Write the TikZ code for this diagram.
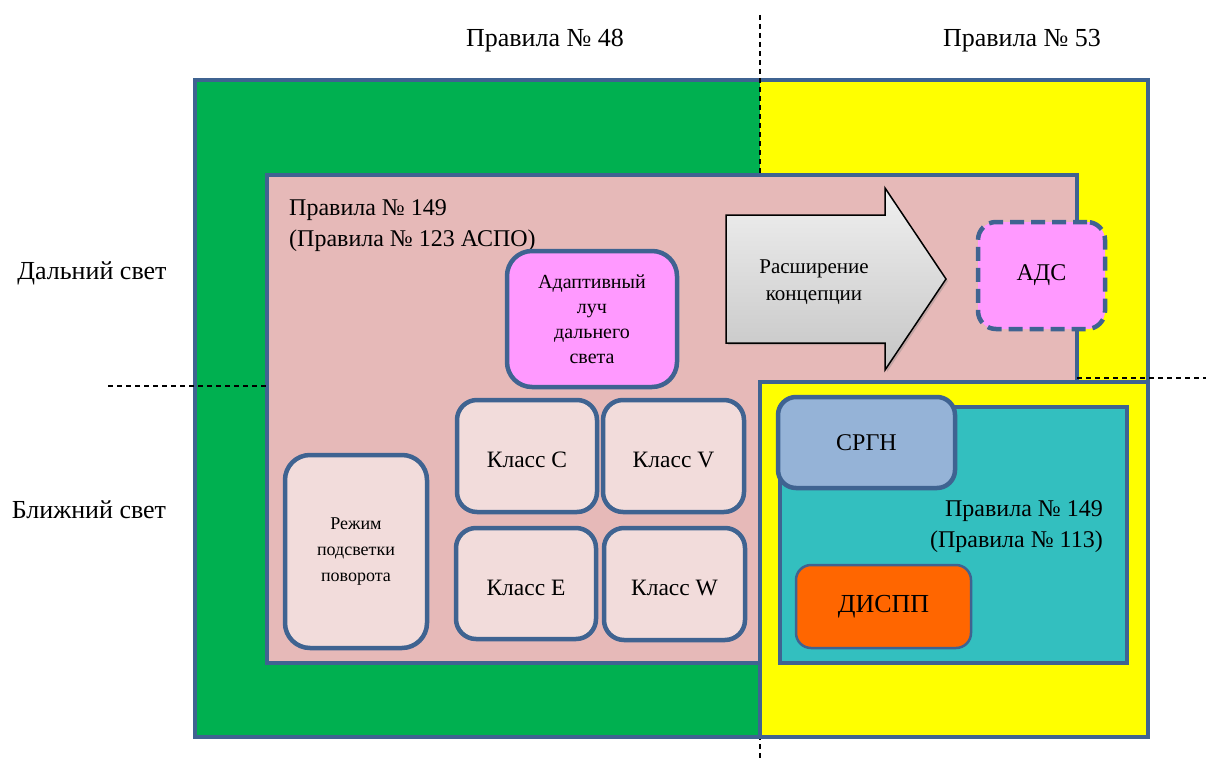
\documentclass[tikz,border=0pt]{standalone}
\usepackage{fontspec}
\setmainfont{Liberation Serif}
\usetikzlibrary{shadows}

\definecolor{frame}{HTML}{3F6391}
\definecolor{zoneA}{HTML}{00B050}
\definecolor{zoneB}{HTML}{FFFF00}
\definecolor{rulefill}{HTML}{E6B9B8}
\definecolor{clsfill}{HTML}{F2DCDB}
\definecolor{adbfill}{HTML}{FF99FF}
\definecolor{tealfill}{HTML}{33BFBF}
\definecolor{srgnfill}{HTML}{95B3D7}
\definecolor{dispfill}{HTML}{FF6600}

\begin{document}
\begin{tikzpicture}[x=1pt, y=-1pt, font=\fontsize{24}{31}\selectfont,
    zone/.style = {draw=frame, line width=4pt},
    box/.style = {draw=frame, line width=4.5pt, rounded corners=20pt, fill=clsfill, align=center, inner sep=0pt},
    cls/.style = {box, minimum width=141pt, minimum height=112pt, font=\fontsize{23.5}{28}\selectfont,
                  text height=23pt, text depth=0pt},
    sep/.style = {dash pattern=on 5pt off 4pt, line width=1.2pt},
    label/.style = {inner sep=0pt},
    side/.style = {inner sep=0pt, font=\fontsize{26}{31}\selectfont}]
    \useasboundingbox (0,0) rectangle (1206,760);

    % zones of the two rules
    \fill[zoneA] (195,80) rectangle (760,737);
    \fill[zoneB] (760,80) rectangle (1148,737);
    \draw[zone] (195,80) rectangle (1148,737);
    \coordinate (vtop) at (760,15);
    \coordinate (vbot) at (760,760);
    \draw[sep] (vtop) -- (vbot);

    \draw[zone, fill=rulefill] (267,175) rectangle (1077,663);
    \draw[zone, fill=zoneB] (760,382) rectangle (1148,737);
    \draw[zone, fill=tealfill] (780,407) rectangle (1127,663);

    % horizontal split
    \coordinate (hl1) at (108,386);
    \coordinate (hl2) at (267,386);
    \coordinate (hr1) at (1077,378);
    \coordinate (hr2) at (1206,378);
    \draw[sep] (hl1) -- (hl2);
    \draw[sep] (hr1) -- (hr2);

    % labels
    \node[side] (r48) at (545,41) {Правила № 48};
    \node[side] (r53) at (1022,41) {Правила № 53};
    \node[side] (far) at (92,273) {Дальний свет};
    \node[side] (near) at (89,510) {Ближний свет};
    \node[label, anchor=west, align=left] (r149) at (289,226) {Правила № 149\\(Правила № 123 АСПО)};
    \node[label, anchor=east, align=right] (r113) at (1103,527) {Правила № 149\\(Правила № 113)};

    % boxes
    \node[box, fill=adbfill, minimum width=170pt, minimum height=136pt, rounded corners=25pt,
          font=\fontsize{20}{25}\selectfont] (adb) at (592,319) {Адаптивный\\луч\\дальнего\\света};
    \node[cls, minimum width=140pt] (clC) at (527,456) {Класс C};
    \node[cls] (clV) at (673.5,456) {Класс V};
    \node[cls, minimum width=140pt, minimum height=111pt] (clE) at (526,583.5) {Класс E};
    \node[cls] (clW) at (674.5,584) {Класс W};
    \node[box, minimum width=142pt, minimum height=193pt, rounded corners=25pt,
          font=\fontsize{18}{26}\selectfont] (turn) at (356,551.5) {Режим\\подсветки\\поворота};

    % arrow
    \draw[black, line width=1.5pt, top color=gray!12, bottom color=gray!45,
          drop shadow={opacity=0.35, shadow xshift=2pt, shadow yshift=-2pt}]
        (726,215) -- (885,215) -- (885,188) -- (946,279) -- (885,370) -- (885,343) -- (726,343) -- cycle;
    \node[label, align=center, font=\fontsize{21}{27}\selectfont] (expand) at (814,282) {Расширение\\концепции};

    \node[box, fill=adbfill, minimum width=127pt, minimum height=107pt, rounded corners=18pt,
          dash pattern=on 14pt off 7pt] (ads) at (1041.5,275.5) {АДС};
    \node[box, fill=srgnfill, minimum width=177pt, minimum height=91pt, rounded corners=18pt] (srgn) at (866.5,442.5) {СРГН};
    \node[box, fill=dispfill, line width=2.5pt, minimum width=175pt, minimum height=83pt, rounded corners=15pt,
          font=\fontsize{26}{30}\selectfont] (disp) at (883.5,606.5) {ДИСПП};
\end{tikzpicture}
\end{document}
